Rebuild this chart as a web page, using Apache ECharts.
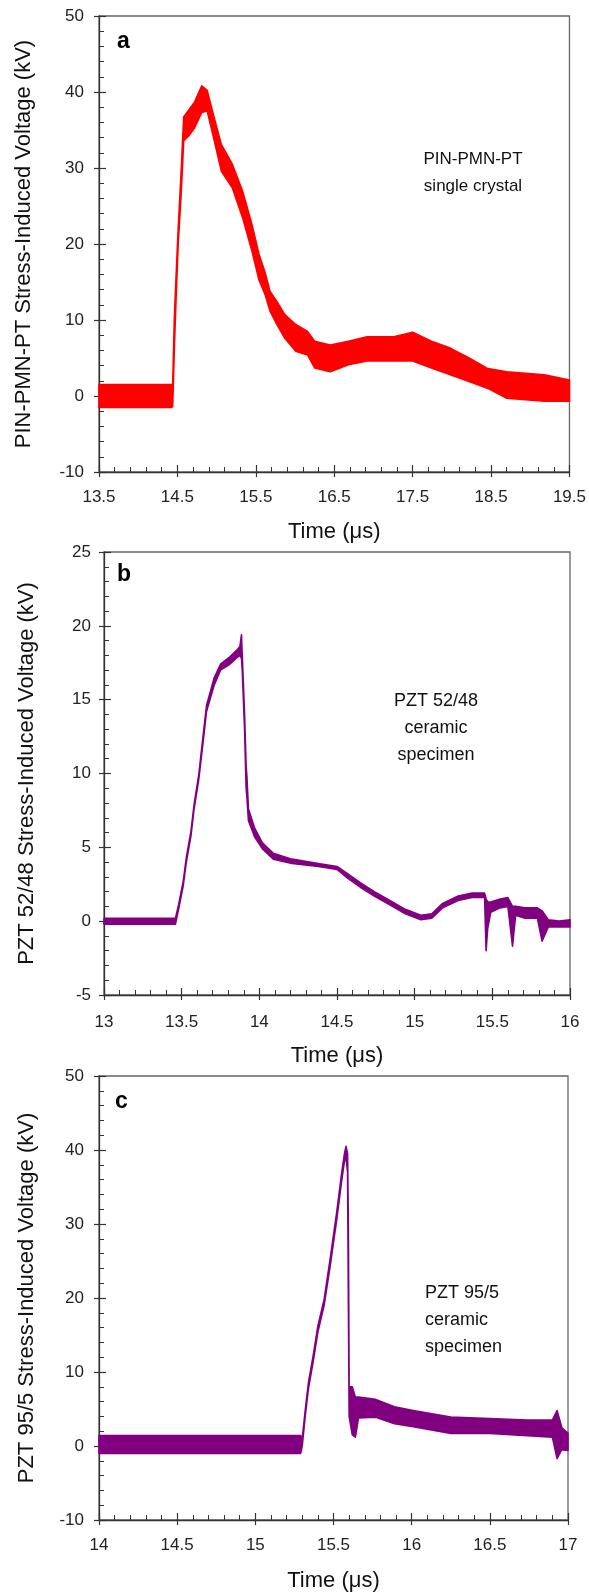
<!DOCTYPE html>
<html><head><meta charset="utf-8">
<script src="https://cdn.jsdelivr.net/npm/echarts@6/dist/echarts.min.js"></script>
<style>html,body{margin:0;padding:0;background:#fff}#c{width:589px;height:1594px}</style>
</head><body><div id="c"></div>
<script>
// Panel a: PIN-PMN-PT single crystal (upper / lower envelope of the noisy trace)
const timeA = [13.50,14.43,14.44,14.46,14.48,14.51,14.55,14.58,14.65,14.72,14.81,14.88,14.97,15.06,15.20,15.33,15.45,15.54,15.62,15.68,15.77,15.87,16.01,16.16,16.25,16.45,16.68,16.92,17.26,17.50,17.74,17.98,18.22,18.46,18.70,18.94,19.18,19.50];
const hiA   = [1.5,1.5,1.6,10,15,22,30,36.7,37.7,38.7,40.8,40.2,36.6,33.1,30.5,27.0,22.6,18.7,16.2,13.8,12.4,10.7,9.4,8.5,7.2,6.7,7.2,7.8,7.8,8.4,7.2,6.3,5.0,3.6,3.2,3.0,2.8,2.1];
const loA   = [-1.5,-1.5,-1.3,6,12,20,27,33.6,34.3,35.3,37.3,37.5,33.6,29.6,27.4,23.5,19.1,15.3,13.3,11.2,9.4,7.6,5.9,5.4,3.7,3.2,4.1,4.6,4.6,4.6,3.7,2.8,1.9,1.0,-0.3,-0.5,-0.7,-0.7];

// Panel b: PZT 52/48 ceramic
const timeB = [13.00,13.46,13.48,13.51,13.53,13.56,13.58,13.61,13.63,13.66,13.71,13.75,13.81,13.85,13.875,13.885,13.89,13.905,13.915,13.92,13.93,13.97,14.02,14.09,14.21,14.38,14.50,14.57,14.65,14.74,14.84,14.94,15.04,15.11,15.18,15.28,15.37,15.45,15.46,15.47,15.49,15.55,15.60,15.63,15.65,15.71,15.79,15.82,15.86,15.93,16.00];
const hiB   = [0.2,0.2,1.1,2.7,4.3,6.1,7.9,9.9,11.8,14.6,16.5,17.4,17.9,18.3,18.6,19.4,18.0,14.0,10.5,9.8,7.6,6.3,5.3,4.6,4.2,3.9,3.7,3.2,2.6,2.0,1.4,0.8,0.4,0.5,1.2,1.7,1.9,1.9,1.5,1.3,1.3,1.5,1.6,1.0,1.0,0.9,0.9,0.7,0.1,0.0,0.1];
const loB   = [-0.2,-0.2,0.8,2.4,4.0,5.8,7.6,9.6,11.4,14.2,16.0,17.0,17.4,17.8,18.0,17.8,17.0,13.0,9.0,8.4,6.8,5.7,4.9,4.2,3.9,3.7,3.5,2.9,2.3,1.7,1.1,0.5,0.1,0.2,0.9,1.4,1.6,1.6,-2.0,-0.5,0.6,0.9,1.0,-1.7,0.4,0.2,0.2,-1.35,-0.4,-0.4,-0.4];

// Panel c: PZT 95/5 ceramic
const timeC = [14.00,15.29,15.30,15.32,15.34,15.37,15.40,15.44,15.48,15.52,15.55,15.57,15.58,15.59,15.595,15.60,15.62,15.64,15.66,15.77,15.89,16.01,16.25,16.50,16.74,16.90,16.93,16.96,17.00];
const hiC   = [1.4,1.4,1.0,5.0,8.6,12.2,16.2,19.8,25.5,31.5,36.5,39.5,40.5,39.5,30,8,8,6.6,6.6,6.3,5.3,4.8,3.9,3.7,3.5,3.5,4.8,2.5,1.7];
const loC   = [-1.0,-1.0,0.0,4.2,7.8,11.4,15.4,19.0,24.5,30.5,35.5,38.5,39,37,20,4,1.5,1.2,3.8,3.9,3.0,2.6,1.7,1.7,1.4,1.2,-1.7,-0.5,-0.6];

const yNames = ['PIN-PMN-PT Stress-Induced Voltage (kV)','PZT 52/48 Stress-Induced Voltage (kV)','PZT 95/5 Stress-Induced Voltage (kV)'];
const xName = 'Time (\u03bcs)';
const panelLetters = ['a','b','c'];
const notes = ['PIN-PMN-PT\nsingle crystal','PZT 52/48\nceramic\nspecimen','PZT 95/5\nceramic\nspecimen'];

const FONT = 'Liberation Sans, Arial, sans-serif';
const RED = '#ff0000', PURPLE = '#800080';

const grids = [
  {left:99, top:16, width:471, height:456},
  {left:104, top:552, width:466, height:443},
  {left:99, top:1076, width:469, height:444}
];
const xCfg = [
  {min:13.5,max:19.5,interval:1,gap:49,margin:17},
  {min:13,max:16,interval:0.5,gap:50,margin:19},
  {min:14,max:17,interval:0.5,gap:50,margin:17}
];
const yCfg = [
  {min:-10,max:50,interval:10,gap:64,margin:15},
  {min:-5,max:25,interval:5,gap:66,margin:13},
  {min:-10,max:50,interval:10,gap:61,margin:15}
];

const xAxes = [], yAxes = [], series = [];
grids.forEach((g,i)=>{
  const xc = xCfg[i], yc = yCfg[i];
  xAxes.push({type:'value',gridIndex:i,position:'bottom',min:xc.min,max:xc.max,interval:xc.interval,
    name:xName,nameLocation:'middle',nameGap:xc.gap,nameTextStyle:{fontFamily:FONT,fontSize:22,color:'#111'},
    axisLine:{onZero:false,lineStyle:{color:'#333',width:1.3}},
    axisTick:{inside:true,length:7,lineStyle:{color:'#333',width:1.2}},
    minorTick:{show:true,splitNumber:5,length:5,lineStyle:{color:'#333',width:1}},
    axisLabel:{fontFamily:FONT,fontSize:17,color:'#222',margin:xc.margin,showMinLabel:true,showMaxLabel:true},
    splitLine:{show:false}});
  xAxes.push({type:'value',gridIndex:i,position:'bottom',min:xc.min,max:xc.max,interval:xc.interval,
    axisLine:{show:false,onZero:false},axisTick:{inside:false,length:5,lineStyle:{color:'#333',width:1.2}},
    axisLabel:{show:false},splitLine:{show:false}});
  yAxes.push({type:'value',gridIndex:i,position:'left',min:yc.min,max:yc.max,interval:yc.interval,
    name:yNames[i],nameLocation:'middle',nameGap:yc.gap,nameTextStyle:{fontFamily:FONT,fontSize:22,color:'#111'},
    axisLine:{onZero:false,lineStyle:{color:'#333',width:1.3}},
    axisTick:{inside:true,length:7,lineStyle:{color:'#333',width:1.2}},
    minorTick:{show:true,splitNumber:5,length:5,lineStyle:{color:'#333',width:1}},
    axisLabel:{fontFamily:FONT,fontSize:17,color:'#222',margin:yc.margin},
    splitLine:{show:false}});
  yAxes.push({type:'value',gridIndex:i,position:'left',min:yc.min,max:yc.max,interval:yc.interval,
    axisLine:{show:false,onZero:false},axisTick:{inside:false,length:5,lineStyle:{color:'#333',width:1.2}},
    axisLabel:{show:false},splitLine:{show:false}});
});

// Filled band between the upper and lower envelope, drawn through the axis scales
function band(idx, t, hi, lo, color){
  series.push({type:'custom',coordinateSystem:'cartesian2d',xAxisIndex:idx*2,yAxisIndex:idx*2,
    data:t.map((x,k)=>[x,hi[k],lo[k]]),encode:{x:0,y:[1,2]},silent:true,
    renderItem:function(params, api){
      if(params.dataIndex!==0) return null;
      const pts=[];
      for(let k=0;k<t.length;k++) pts.push(api.coord([t[k],hi[k]]));
      for(let k=t.length-1;k>=0;k--) pts.push(api.coord([t[k],lo[k]]));
      return {type:'polygon',shape:{points:pts},style:{fill:color,stroke:color,lineWidth:1.6,lineJoin:'round'}};
    }});
}
band(0,timeA,hiA,loA,RED);
band(1,timeB,hiB,loB,PURPLE);
band(2,timeC,hiC,loC,PURPLE);

function note(x,y,text,size,align){
  return {type:'text',x:x,y:y,style:{text:text,font:size+'px '+FONT,fill:'#111',
    align:align,textAlign:align,verticalAlign:'top',textVerticalAlign:'top',lineHeight:27}};
}
const graphic = [
  {type:'text',left:117,top:30,style:{text:panelLetters[0],font:'bold 23px '+FONT,fill:'#000'}},
  {type:'text',left:117,top:563,style:{text:panelLetters[1],font:'bold 23px '+FONT,fill:'#000'}},
  {type:'text',left:115,top:1090,style:{text:panelLetters[2],font:'bold 23px '+FONT,fill:'#000'}},
  note(473,146,notes[0],17,'center'),
  note(436,688,notes[1],18,'center'),
  note(425,1280,notes[2],18,'left')
];

const chart = echarts.init(document.getElementById('c'),null,{renderer:'canvas'});
chart.setOption({
  animation:false,
  backgroundColor:'#fff',
  grid:grids.map(g=>Object.assign({show:true,borderColor:'#666',borderWidth:1.3,backgroundColor:'transparent'},g)),
  xAxis:xAxes, yAxis:yAxes, series:series, graphic:graphic
});
</script></body></html>
